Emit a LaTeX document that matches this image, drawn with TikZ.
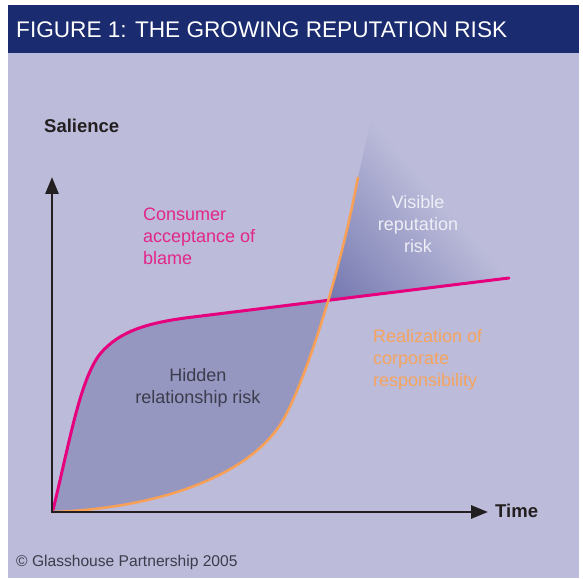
\documentclass[tikz,border=0pt]{standalone}
\usepackage{fontspec}
\setmainfont{Liberation Sans}
\usetikzlibrary{arrows.meta}
\definecolor{bgc}{HTML}{BCBCDA}
\definecolor{titlec}{HTML}{1B2B70}
\definecolor{hiddenc}{HTML}{9597C1}
\definecolor{darkv}{HTML}{7578B0}
\definecolor{magc}{HTML}{E6007E}
\definecolor{magt}{HTML}{E2268A}
\definecolor{orc}{HTML}{F9A057}
\definecolor{ort}{HTML}{F6A35E}
\definecolor{axisc}{HTML}{231F20}
\definecolor{hidt}{HTML}{3C3C4C}
\definecolor{vist}{HTML}{EEEEF6}
\tikzset{
  lbl/.style={inner sep=0pt, font=\fontsize{18}{22}\selectfont},
  axlbl/.style={inner sep=0pt, font=\fontsize{18.5}{22}\selectfont\bfseries, text=axisc},
  axtip/.tip={Triangle[length=17pt,width=13pt]}
}
\begin{document}
\begin{tikzpicture}[x=1pt,y=1pt]
\useasboundingbox (0,0) rectangle (583,578);
\fill[white] (0,0) rectangle (583,578);
\fill[bgc] (8,0) rectangle (579,573);
\fill[titlec] (8,525) rectangle (579,573);
\node[anchor=base west, inner sep=0pt, font=\fontsize{22.6}{27}\selectfont, text=white] (title) at (16,540.5) {FIGURE 1: THE GROWING REPUTATION RISK};

% hidden region
\begin{scope}
\clip (53,68) .. controls (70,138) and (80,198) .. (100,224) .. controls (120,248) and (150,255) .. (185,260) -- (509,300) -- (509,0) -- (53,0) -- cycle;
\fill[hiddenc] (53,66) .. controls (160,70) and (246,102) .. (280,153) .. controls (300,183) and (338,293) .. (358,401) -- (53,401) -- cycle;
\end{scope}

% visible region
\begin{scope}
\clip (328,277.6) -- (344,337) -- (358,401) -- (371,458) -- (509,300) -- cycle;
\begin{scope}[transform canvas={rotate around={41:(384.6,327)}}]
\shade[left color=darkv, right color=bgc] (312,127) rectangle (462,527);
\end{scope}
\end{scope}

% curves
\coordinate (ms) at (53,68);
\coordinate (me) at (509,300);
\coordinate (os) at (53,66);
\coordinate (oe) at (358,401);
\draw[magc, line width=3pt, line cap=round] (ms) .. controls (70,138) and (80,198) .. (100,224) .. controls (120,248) and (150,255) .. (185,260) -- (me);
\draw[orc, line width=2.5pt] (os) .. controls (160,70) and (246,102) .. (280,153) .. controls (300,183) and (338,293) .. (oe);

% axes
\coordinate (O) at (52,66);
\coordinate (ytip) at (52,401);
\coordinate (xtip) at (488,66);
\draw[axisc, line width=2.8pt, axtip-axtip] (ytip) -- (O) -- (xtip);

% labels
\node[axlbl, anchor=base west] (sal) at (44,445) {Salience};
\node[axlbl, anchor=base west] (time) at (495,60) {Time};
\node[lbl, anchor=base west, align=left, text=magt] (cons) at (143,313) {Consumer\\acceptance of\\blame};
\node[lbl, anchor=base, align=center, text=vist] (vis) at (418,325) {Visible\\reputation\\risk};
\node[lbl, anchor=base west, align=left, text=ort] (real) at (373,191) {Realization of\\corporate\\responsibility};
\node[lbl, anchor=base, align=center, text=hidt] (hid) at (198,174) {Hidden\\relationship risk};
\node[inner sep=0pt, anchor=base west, font=\fontsize{15.6}{18}\selectfont, text=hidt] (copy) at (16,12) {© Glasshouse Partnership 2005};
\end{tikzpicture}
\end{document}
